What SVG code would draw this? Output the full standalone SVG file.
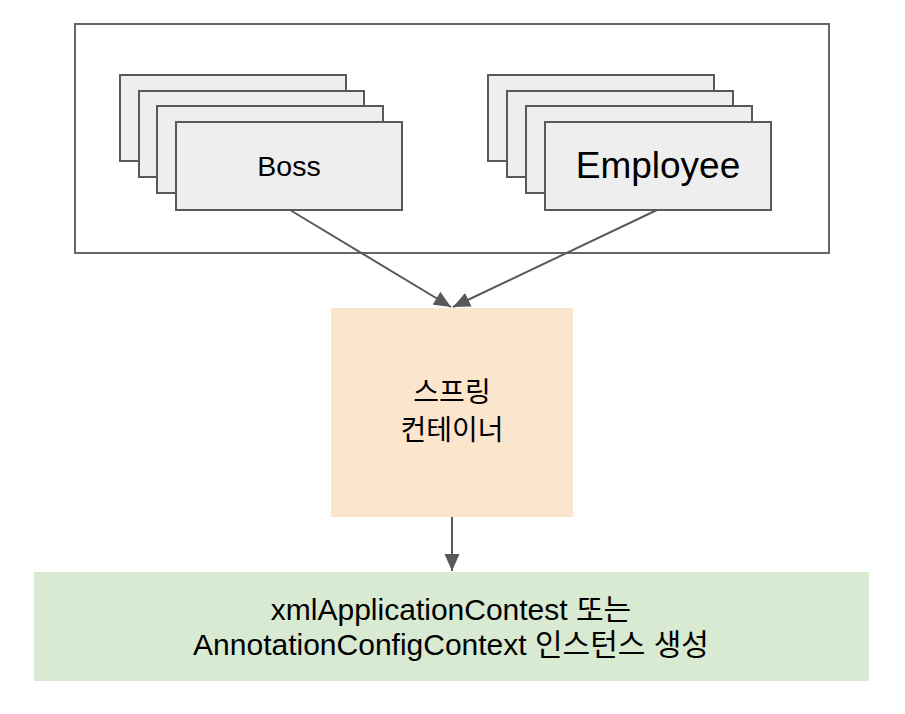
<svg xmlns="http://www.w3.org/2000/svg" width="905" height="714" viewBox="0 0 905 714">
<style>
.card{fill:#eeeeee;stroke:#595959;stroke-width:2}
.frame{fill:#ffffff;stroke:#666666;stroke-width:2}
.conn{stroke:#595959;stroke-width:2;fill:none}
.lat{font-family:"Liberation Sans","Noto Sans CJK KR",Arial,sans-serif;fill:#000000;text-anchor:middle}
.kr{font-family:"Noto Sans CJK KR","Liberation Sans",sans-serif;fill:#000000;text-anchor:middle}
</style>
<defs>
<marker id="arrow" markerUnits="userSpaceOnUse" markerWidth="18" markerHeight="16" viewBox="0 0 18 16" refX="17" refY="8" orient="auto">
<path d="M0,0.5 L17,8 L0,15.5 z" fill="#595959"/>
</marker>
</defs>
<rect width="905" height="714" fill="#ffffff"/>
<g id="frame"><rect class="frame" x="75" y="24" width="754" height="229"/></g>
<g id="boss">
<rect class="card" x="120" y="75" width="226" height="86"/>
<rect class="card" x="139" y="91" width="225" height="86"/>
<rect class="card" x="157" y="106" width="226" height="87"/>
<rect class="card" x="176" y="122" width="226" height="88"/>
<text class="lat" x="289" y="176" font-size="28.5">Boss</text>
</g>
<g id="employee">
<rect class="card" x="488" y="75" width="226" height="86"/>
<rect class="card" x="507" y="91" width="226" height="86"/>
<rect class="card" x="526" y="106" width="226" height="87"/>
<rect class="card" x="545" y="122" width="226" height="88"/>
<text class="lat" x="658" y="178" font-size="37">Employee</text>
</g>
<g id="spring">
<rect x="331" y="308" width="242" height="209" fill="#fce5cd"/>
<text class="kr" x="452" y="402" font-size="28">스프링</text>
<text class="kr" x="452" y="440" font-size="28">컨테이너</text>
</g>
<g id="context">
<rect x="34" y="572" width="835" height="109" fill="#d9ead3"/>
<text class="lat" x="451" y="620" font-size="30">xmlApplicationContest 또는</text>
<text class="lat" x="451" y="655" font-size="30">AnnotationConfigContext 인스턴스 생성</text>
</g>
<g id="connectors">
<line class="conn" x1="290" y1="210" x2="451" y2="307" marker-end="url(#arrow)"/>
<line class="conn" x1="657" y1="210" x2="453" y2="307" marker-end="url(#arrow)"/>
<line class="conn" x1="452" y1="517" x2="452" y2="571" marker-end="url(#arrow)"/>
</g>
</svg>
